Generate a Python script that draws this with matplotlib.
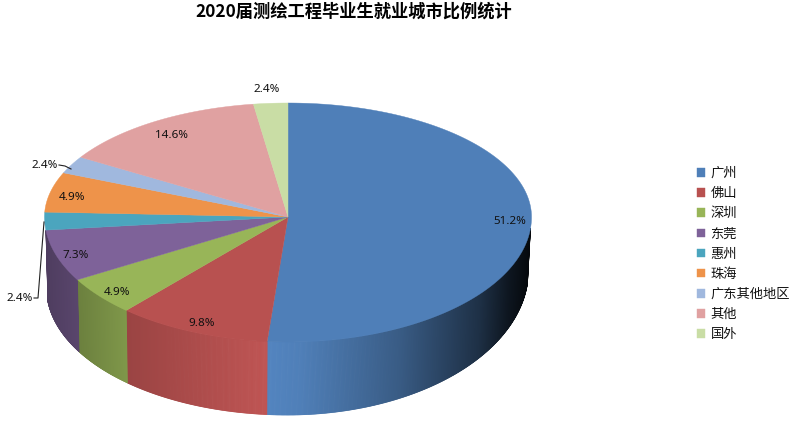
import numpy as np
import matplotlib
matplotlib.use("Agg")
import matplotlib.pyplot as plt
from matplotlib.collections import PolyCollection

categories = ["广州", "佛山", "深圳", "东莞", "惠州", "珠海", "广东其他地区", "其他", "国外"]
shares = [51.2, 9.8, 4.9, 7.3, 2.4, 4.9, 2.4, 14.6, 2.4]
colors = ["#4F7FB8", "#B85150", "#98B558", "#7E6299", "#4BA5BE",
          "#EE934A", "#A0B8DE", "#E0A1A1", "#C9DDA5"]
title = "2020届测绘工程毕业生就业城市比例统计"

CJK = ["Noto Sans CJK SC", "DejaVu Sans"]
W, H = 790, 444
CX, CY, RX = 288.0, 217.0, 243.5
RY_BACK, RY_FRONT = 114.0, 125.0
WALL_FROM, WALL_TO = 95.0, 263.7
SHADE_X = [44, 127, 268, 300, 400, 480, 510, 530]
SHADE_V = [0.62, 0.84, 1.04, 1.0, 0.72, 0.38, 0.17, 0.07]
LABEL_XY = [(509.5, 221), (201.5, 323), (117, 292), (75.5, 255), (19.5, 298),
            (72, 197), (44.5, 165), (171, 135), (266.5, 89)]
# perspective of the tilted disc: true angle -> angle on the drawn ellipse
PERSP_IN = [0, 184.3, 219.6, 237.2, 263.8, 272.2, 289.8, 298.5, 351, 360]
PERSP_OUT = [0, 184.7, 221.4, 239.6, 264.0, 272.2, 292.5, 301.4, 351.5, 360]


def persp(deg):
    return np.interp(deg, PERSP_IN, PERSP_OUT)


def top_xy(deg):
    a = np.radians(persp(deg))
    x = CX + RX * np.sin(a)
    c = np.cos(a)
    y = CY - np.where(c > 0, RY_BACK, RY_FRONT) * c
    return x, y


def bottom_xy(deg):
    a = np.radians(persp(deg))
    x = 287.5 + 241.0 * np.sin(a)
    c = -np.cos(a)
    right = np.asarray(deg) < 180
    y = np.where(right, 270.0 + 145.0 * c, 288.0 + 127.0 * c)
    return x, y


fig = plt.figure(figsize=(W / 100, H / 100), dpi=100, facecolor="white")
ax = fig.add_axes([0, 0, 1, 1])
ax.set_xlim(0, W)
ax.set_ylim(H, 0)
ax.axis("off")

total = sum(shares)
edges = np.concatenate([[0.0], np.cumsum(shares) / total * 360.0])

# side wall, drawn as narrow shaded strips
for s, e, col in zip(edges[:-1], edges[1:], colors):
    lo, hi = max(s, WALL_FROM), min(e, WALL_TO)
    if hi <= lo:
        continue
    angles = np.linspace(lo, hi, max(2, int((hi - lo) * 5)))
    polys, faces = [], []
    base = np.array(matplotlib.colors.to_rgb(col))
    for a0, a1 in zip(angles[:-1], angles[1:]):
        x0, y0 = top_xy(a0)
        x1, y1 = top_xy(a1)
        x2, y2 = bottom_xy(a1)
        x3, y3 = bottom_xy(a0)
        polys.append([(x0, y0), (x1, y1), (x2, y2), (x3, y3)])
        k = np.interp((x0 + x1) / 2, SHADE_X, SHADE_V)
        faces.append(np.clip(base * k, 0, 1))
    ax.add_collection(PolyCollection(polys, facecolors=faces, edgecolors=faces,
                                     linewidths=0.5, zorder=1))

# top face
handles = []
for s, e, col, name in zip(edges[:-1], edges[1:], colors, categories):
    angles = np.linspace(s, e, max(3, int(e - s) * 2))
    xs, ys = top_xy(angles)
    patch = ax.fill(np.r_[CX, xs], np.r_[CY, ys], facecolor=col, edgecolor=col,
                    linewidth=0.3, zorder=2, label=name)[0]
    handles.append(patch)

# value labels
for v, (x, y) in zip(shares, LABEL_XY):
    ax.text(x, y, f"{v:.1f}%", ha="center", va="center", fontsize=8.4,
            family="Noto Sans", color="#111111", zorder=4)

# leader lines
ax.plot([59, 65, 71], [165, 166, 169], color="#222222", lw=0.8, zorder=3)
ax.plot([34, 38, 44], [298, 298, 222], color="#222222", lw=0.8, zorder=3)

ax.text(354, 12, title, ha="center", va="center", fontsize=12.45,
        fontweight="bold", family=CJK, color="black")

leg = ax.legend(handles=handles, loc="upper left", bbox_to_anchor=(697 / W, 1 - 166 / H),
                bbox_transform=fig.transFigure, frameon=False, borderaxespad=0, borderpad=0,
                handlelength=0.6, handleheight=0.6, handletextpad=0.42, labelspacing=0.465,
                prop={"family": CJK, "size": 9.55})
for t in leg.get_texts():
    t.set_color("#111111")

fig.savefig("out.png", dpi=100, facecolor="white")
